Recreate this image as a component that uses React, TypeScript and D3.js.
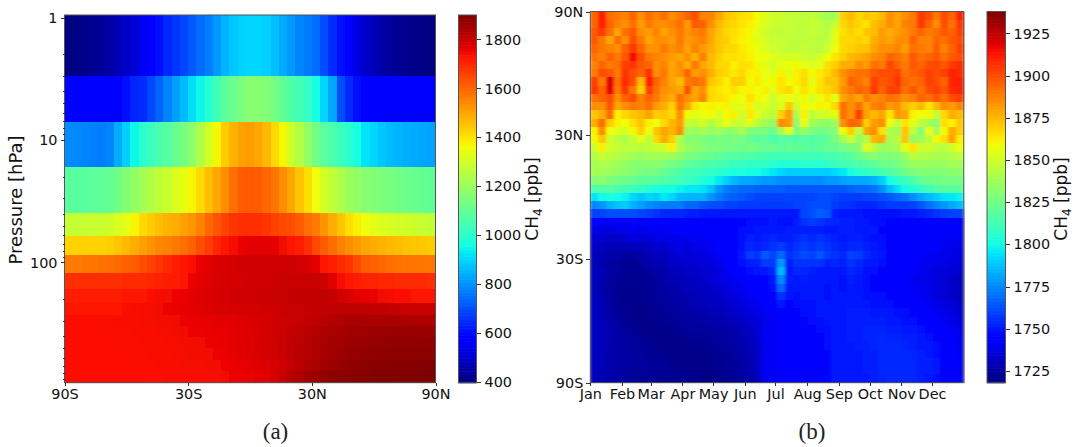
// App.tsx - CH4 heatmaps: (a) pressure vs latitude, (b) latitude vs month
import React, { useEffect, useRef } from 'react';
import * as d3 from 'd3';

// ---- Panel (a)
const pressureEdges = [0.954, 3, 7.17, 16.7, 39.4, 60.5, 87, 122.5, 164, 213, 268, 330, 405, 499, 625, 769, 958];
const pressureTicks = [1, 10, 100];
const pressureMinorTicks = [2, 3, 4, 5, 6, 7, 8, 9, 20, 30, 40, 50, 60, 70, 80, 90, 200, 300, 400, 500, 600, 700, 800, 900];
const latTicksA = [-90, -30, 30, 90];
const cbarTicksA = [400, 600, 800, 1000, 1200, 1400, 1600, 1800];

// one row per pressure layer, top to bottom; 45 latitude bins, south to north
const ch4ByPressure = [
  [400,405,410,420,430,445,470,490,510,545,575,610,640,665,690,715,745,770,810,850,880,895,900,900,890,865,835,810,780,765,745,700,650,600,560,530,495,470,450,435,425,415,410,400,398],
  [575,575,575,575,575,575,590,610,640,650,690,730,780,820,860,910,950,990,1040,1090,1120,1150,1170,1170,1160,1130,1100,1070,1040,1020,960,900,830,700,650,600,585,575,575,575,575,575,575,575,575],
  [790,785,780,775,770,780,840,890,950,1000,1030,1060,1080,1110,1140,1180,1240,1310,1370,1440,1480,1510,1515,1500,1470,1420,1370,1300,1250,1190,1130,1090,1060,1030,1000,960,920,900,880,860,850,840,835,830,825],
  [1085,1085,1085,1090,1095,1105,1130,1160,1190,1220,1250,1270,1290,1320,1345,1375,1420,1460,1500,1540,1590,1620,1625,1620,1600,1580,1540,1500,1450,1410,1360,1310,1270,1240,1210,1190,1170,1160,1150,1140,1130,1120,1110,1105,1100],
  [1280,1280,1285,1290,1290,1300,1320,1340,1375,1420,1440,1460,1480,1490,1510,1530,1560,1600,1630,1660,1680,1690,1690,1690,1680,1660,1650,1640,1620,1590,1570,1530,1490,1450,1410,1385,1360,1340,1325,1315,1305,1300,1295,1285,1280],
  [1430,1430,1430,1430,1430,1435,1450,1470,1490,1510,1530,1550,1560,1575,1590,1610,1640,1670,1705,1725,1745,1760,1772,1772,1772,1765,1750,1735,1715,1690,1650,1620,1590,1560,1540,1520,1500,1490,1480,1470,1465,1455,1450,1445,1440],
  [1570,1570,1575,1580,1585,1590,1600,1610,1620,1640,1660,1680,1700,1715,1725,1740,1760,1775,1782,1788,1792,1795,1797,1797,1797,1797,1797,1797,1792,1788,1770,1735,1718,1700,1680,1650,1620,1610,1600,1590,1585,1580,1580,1580,1575],
  [1690,1690,1690,1690,1690,1690,1692,1695,1695,1700,1705,1710,1715,1720,1735,1755,1770,1780,1785,1788,1790,1792,1795,1795,1797,1800,1805,1805,1805,1805,1805,1800,1775,1745,1725,1715,1710,1708,1705,1702,1700,1698,1696,1694,1692],
  [1718,1718,1718,1720,1720,1722,1724,1726,1730,1734,1738,1745,1750,1756,1762,1768,1776,1782,1788,1790,1794,1796,1798,1800,1802,1805,1808,1810,1812,1812,1815,1815,1810,1795,1785,1770,1765,1758,1750,1745,1740,1738,1736,1735,1730],
  [1730,1730,1730,1730,1732,1734,1736,1738,1742,1745,1748,1752,1756,1760,1766,1770,1775,1778,1782,1785,1788,1790,1790,1792,1795,1798,1802,1805,1808,1810,1813,1815,1818,1820,1820,1820,1818,1815,1812,1810,1808,1806,1805,1805,1805],
  [1738,1738,1738,1738,1740,1740,1742,1742,1744,1746,1748,1750,1752,1754,1758,1760,1762,1766,1768,1770,1774,1778,1782,1786,1790,1794,1798,1802,1806,1812,1818,1824,1830,1836,1842,1845,1846,1846,1845,1844,1842,1840,1840,1840,1838],
  [1738,1738,1738,1738,1740,1740,1740,1740,1742,1742,1744,1746,1748,1750,1754,1756,1758,1760,1764,1766,1770,1775,1780,1784,1790,1796,1802,1808,1815,1822,1830,1838,1845,1850,1855,1858,1860,1862,1862,1864,1864,1865,1865,1865,1865],
  [1738,1738,1738,1738,1738,1738,1740,1740,1740,1742,1742,1744,1746,1748,1750,1752,1754,1756,1760,1764,1768,1774,1780,1786,1792,1798,1806,1814,1822,1830,1838,1846,1852,1858,1862,1864,1868,1870,1872,1874,1875,1876,1876,1877,1877],
  [1738,1738,1738,1738,1738,1738,1738,1740,1740,1740,1742,1742,1744,1746,1748,1750,1750,1752,1756,1760,1766,1772,1778,1784,1790,1797,1806,1815,1824,1832,1840,1848,1855,1862,1868,1872,1875,1878,1880,1880,1882,1883,1884,1884,1885],
  [1738,1738,1738,1738,1738,1738,1738,1738,1740,1740,1740,1742,1742,1744,1746,1748,1748,1750,1752,1756,1760,1764,1770,1775,1780,1788,1798,1810,1822,1835,1846,1855,1862,1870,1878,1882,1885,1887,1889,1890,1891,1892,1893,1893,1894],
  [1738,1738,1738,1738,1738,1738,1738,1738,1738,1740,1740,1740,1742,1742,1744,1746,1746,1746,1748,1752,1755,1758,1763,1768,1775,1790,1808,1825,1840,1855,1865,1872,1880,1885,1888,1890,1893,1895,1897,1898,1899,1900,1901,1902,1903],
];

// ---- Panel (b)
const latTicksB = [-90, -30, 30, 90];
const monthStarts = d3.range(0, 12).map(m => new Date(Date.UTC(2019, m, 1)));
const cbarTicksB = [1725, 1750, 1775, 1800, 1825, 1850, 1875, 1900, 1925];

// one row per 4 degree latitude band, 90N first; 48 time bins, Jan to Dec
const ch4ByLatitude = [
  [1895,1912,1893,1890,1888,1895,1885,1893,1888,1892,1885,1890,1895,1900,1888,1888,1880,1872,1870,1866,1865,1860,1855,1850,1850,1847,1847,1845,1847,1842,1838,1840,1870,1875,1868,1872,1870,1875,1885,1880,1885,1890,1905,1900,1890,1900,1895,1910],
  [1895,1912,1895,1888,1885,1892,1882,1890,1885,1885,1888,1892,1882,1897,1895,1885,1875,1870,1868,1865,1862,1858,1853,1850,1848,1848,1846,1846,1848,1846,1842,1848,1868,1872,1868,1865,1874,1878,1885,1880,1888,1890,1905,1895,1885,1900,1892,1905],
  [1898,1905,1892,1880,1892,1897,1885,1882,1888,1880,1885,1890,1884,1888,1890,1880,1873,1868,1866,1863,1860,1856,1850,1847,1846,1848,1845,1845,1848,1846,1843,1855,1866,1870,1866,1872,1874,1882,1878,1882,1885,1890,1895,1890,1892,1898,1895,1903],
  [1898,1890,1880,1893,1885,1900,1890,1880,1885,1885,1882,1890,1882,1885,1888,1880,1872,1870,1865,1862,1860,1855,1852,1848,1848,1846,1845,1847,1846,1844,1846,1856,1868,1868,1870,1868,1878,1882,1880,1885,1885,1895,1888,1888,1895,1892,1898,1900],
  [1895,1890,1888,1885,1895,1905,1895,1885,1884,1890,1885,1888,1880,1888,1882,1878,1872,1868,1868,1864,1860,1858,1854,1850,1848,1846,1846,1848,1845,1844,1850,1858,1868,1870,1872,1872,1880,1885,1885,1888,1882,1892,1890,1888,1897,1888,1895,1903],
  [1892,1888,1895,1890,1898,1916,1900,1890,1888,1885,1882,1880,1885,1878,1888,1875,1870,1866,1866,1865,1862,1858,1858,1854,1852,1852,1852,1850,1848,1852,1858,1865,1870,1875,1878,1880,1885,1888,1895,1892,1888,1898,1892,1895,1898,1892,1898,1900],
  [1888,1895,1890,1892,1903,1906,1898,1895,1885,1888,1880,1885,1878,1890,1880,1875,1868,1868,1862,1866,1865,1860,1855,1852,1855,1858,1860,1856,1854,1856,1866,1870,1878,1878,1885,1882,1892,1890,1902,1895,1890,1898,1895,1900,1902,1898,1905,1908],
  [1890,1900,1898,1890,1906,1900,1895,1906,1885,1890,1880,1884,1895,1882,1885,1878,1870,1868,1864,1868,1862,1862,1858,1855,1862,1855,1862,1866,1860,1864,1868,1875,1885,1890,1892,1892,1898,1900,1900,1903,1892,1895,1898,1903,1900,1903,1910,1908],
  [1903,1890,1920,1892,1908,1900,1875,1912,1895,1888,1880,1875,1890,1892,1890,1872,1868,1862,1870,1870,1860,1864,1858,1860,1865,1860,1862,1868,1856,1865,1872,1872,1882,1895,1892,1888,1903,1898,1900,1906,1895,1892,1895,1903,1900,1895,1910,1912],
  [1905,1895,1918,1890,1905,1890,1870,1903,1892,1885,1882,1880,1900,1880,1885,1868,1865,1862,1866,1860,1862,1858,1862,1855,1865,1868,1858,1866,1860,1866,1868,1872,1885,1890,1895,1892,1905,1895,1903,1903,1892,1898,1892,1900,1903,1898,1908,1910],
  [1892,1895,1900,1885,1895,1900,1888,1895,1890,1882,1878,1892,1885,1880,1888,1868,1866,1864,1860,1858,1866,1860,1858,1850,1856,1858,1855,1860,1852,1858,1865,1855,1880,1885,1880,1890,1885,1888,1892,1890,1885,1888,1895,1892,1898,1892,1900,1903],
  [1885,1885,1898,1880,1885,1890,1888,1892,1882,1878,1870,1890,1880,1865,1860,1862,1860,1862,1855,1856,1862,1852,1855,1848,1853,1872,1850,1860,1858,1862,1860,1868,1892,1885,1892,1880,1888,1890,1882,1885,1875,1870,1875,1865,1875,1885,1882,1888],
  [1872,1878,1893,1862,1868,1872,1875,1880,1870,1872,1868,1885,1860,1855,1858,1860,1852,1860,1862,1850,1864,1856,1848,1846,1870,1882,1840,1862,1846,1850,1852,1855,1892,1885,1903,1880,1875,1880,1865,1882,1880,1862,1858,1860,1845,1868,1878,1875],
  [1878,1892,1870,1862,1858,1866,1872,1862,1858,1868,1876,1882,1848,1846,1852,1842,1850,1858,1850,1848,1856,1845,1838,1835,1885,1882,1832,1858,1838,1835,1832,1838,1885,1895,1892,1870,1882,1885,1858,1846,1865,1856,1846,1838,1832,1866,1862,1872],
  [1862,1885,1858,1856,1852,1860,1870,1858,1872,1880,1876,1885,1838,1836,1840,1834,1838,1832,1834,1840,1830,1826,1828,1822,1840,1856,1828,1835,1828,1825,1826,1830,1860,1870,1845,1880,1885,1866,1842,1838,1872,1846,1830,1858,1838,1860,1878,1870],
  [1860,1872,1850,1846,1840,1848,1856,1846,1868,1878,1870,1842,1830,1832,1828,1826,1828,1826,1828,1826,1822,1820,1820,1815,1818,1818,1816,1818,1816,1818,1820,1828,1838,1850,1835,1842,1875,1878,1840,1845,1872,1835,1838,1845,1860,1865,1880,1862],
  [1850,1862,1850,1848,1845,1846,1844,1846,1848,1850,1862,1842,1835,1832,1830,1828,1828,1826,1826,1824,1826,1824,1822,1822,1820,1822,1820,1820,1818,1820,1822,1822,1826,1828,1832,1855,1845,1836,1838,1840,1855,1865,1850,1850,1845,1845,1850,1858],
  [1842,1848,1845,1842,1840,1838,1836,1838,1838,1838,1836,1832,1828,1826,1824,1822,1820,1818,1818,1816,1816,1814,1814,1812,1812,1812,1812,1812,1812,1812,1814,1814,1816,1818,1824,1828,1832,1828,1828,1830,1835,1845,1842,1842,1840,1840,1842,1845],
  [1840,1842,1840,1838,1835,1832,1832,1832,1832,1830,1826,1824,1820,1818,1816,1815,1814,1812,1810,1810,1808,1808,1808,1806,1804,1804,1804,1806,1806,1806,1808,1810,1812,1814,1816,1818,1820,1824,1824,1826,1832,1836,1836,1836,1836,1836,1838,1838],
  [1838,1838,1836,1834,1832,1830,1828,1826,1826,1822,1818,1816,1812,1812,1810,1808,1806,1804,1802,1802,1800,1800,1798,1796,1792,1790,1790,1790,1790,1790,1790,1792,1796,1800,1806,1808,1810,1814,1816,1820,1824,1828,1830,1830,1830,1830,1832,1832],
  [1830,1832,1828,1826,1824,1822,1820,1820,1818,1816,1814,1812,1810,1808,1804,1800,1796,1790,1785,1782,1782,1780,1778,1778,1776,1776,1776,1776,1776,1776,1778,1778,1780,1782,1782,1782,1784,1790,1800,1806,1810,1815,1822,1824,1825,1826,1826,1826],
  [1815,1816,1818,1814,1812,1810,1808,1804,1802,1800,1800,1798,1796,1796,1794,1788,1778,1772,1770,1768,1768,1766,1766,1766,1766,1764,1764,1764,1764,1764,1764,1764,1764,1766,1768,1768,1770,1776,1786,1794,1800,1804,1808,1812,1816,1818,1818,1820],
  [1795,1800,1802,1800,1798,1792,1788,1792,1790,1796,1792,1786,1784,1784,1784,1778,1772,1768,1766,1764,1762,1760,1760,1760,1760,1760,1760,1760,1760,1762,1762,1760,1758,1758,1758,1760,1760,1762,1764,1768,1770,1776,1782,1786,1790,1794,1796,1798],
  [1775,1778,1784,1788,1790,1784,1780,1776,1774,1772,1772,1772,1768,1768,1764,1762,1762,1760,1760,1758,1758,1758,1758,1758,1758,1758,1760,1760,1762,1762,1762,1758,1756,1756,1754,1754,1754,1756,1758,1758,1758,1760,1764,1770,1774,1778,1782,1786],
  [1760,1760,1762,1762,1762,1762,1760,1758,1756,1754,1754,1754,1752,1752,1750,1750,1750,1750,1750,1750,1750,1750,1750,1750,1750,1750,1750,1760,1762,1766,1764,1752,1750,1750,1750,1748,1748,1748,1748,1748,1750,1750,1752,1754,1756,1758,1760,1760],
  [1742,1742,1742,1744,1740,1742,1744,1746,1744,1744,1746,1746,1744,1744,1744,1744,1744,1746,1746,1746,1748,1748,1748,1750,1748,1748,1752,1756,1758,1756,1754,1754,1752,1752,1750,1750,1748,1748,1746,1744,1744,1744,1744,1744,1744,1744,1744,1744],
  [1738,1736,1736,1738,1738,1740,1738,1740,1740,1740,1742,1742,1742,1742,1742,1742,1742,1744,1746,1748,1748,1750,1750,1750,1750,1752,1752,1752,1752,1752,1750,1750,1752,1752,1750,1750,1750,1746,1744,1744,1742,1742,1742,1742,1742,1742,1742,1742],
  [1734,1734,1732,1732,1734,1736,1734,1736,1738,1738,1738,1738,1740,1740,1740,1742,1742,1744,1746,1748,1752,1750,1752,1754,1752,1752,1754,1756,1754,1756,1754,1752,1750,1752,1752,1750,1748,1748,1746,1744,1744,1744,1742,1742,1742,1740,1740,1740],
  [1732,1730,1728,1728,1728,1730,1730,1730,1734,1732,1736,1738,1736,1738,1738,1740,1742,1744,1746,1748,1754,1752,1754,1756,1758,1754,1756,1758,1756,1758,1756,1754,1752,1754,1754,1752,1750,1748,1746,1746,1744,1744,1742,1742,1742,1740,1738,1738],
  [1730,1728,1726,1726,1724,1724,1726,1728,1730,1730,1732,1736,1734,1736,1736,1738,1740,1742,1746,1750,1758,1756,1764,1760,1768,1756,1758,1762,1760,1764,1758,1756,1754,1760,1758,1754,1752,1750,1746,1746,1744,1744,1742,1740,1740,1738,1738,1736],
  [1730,1726,1724,1724,1722,1722,1724,1726,1728,1728,1732,1732,1734,1734,1736,1736,1738,1742,1744,1748,1752,1752,1758,1758,1778,1752,1756,1756,1756,1756,1752,1754,1752,1756,1754,1750,1750,1748,1746,1744,1744,1742,1740,1740,1738,1738,1736,1736],
  [1730,1728,1725,1724,1722,1722,1722,1724,1726,1726,1730,1730,1732,1732,1734,1734,1736,1740,1742,1744,1748,1750,1750,1754,1785,1750,1754,1754,1752,1750,1750,1750,1750,1754,1752,1748,1748,1746,1744,1744,1742,1742,1740,1738,1736,1736,1734,1734],
  [1730,1727,1724,1723,1722,1721,1722,1722,1724,1726,1728,1728,1730,1730,1732,1734,1736,1738,1740,1742,1744,1746,1746,1750,1775,1752,1750,1752,1750,1750,1750,1750,1748,1752,1750,1748,1746,1746,1744,1744,1742,1740,1738,1738,1736,1734,1732,1730],
  [1730,1726,1724,1722,1721,1721,1722,1722,1724,1724,1726,1728,1730,1730,1730,1732,1734,1736,1738,1740,1742,1744,1744,1748,1768,1750,1750,1750,1750,1750,1748,1750,1748,1750,1750,1748,1746,1746,1746,1744,1742,1740,1740,1738,1736,1734,1732,1730],
  [1731,1727,1724,1722,1721,1720,1721,1722,1723,1724,1726,1726,1728,1728,1730,1730,1732,1734,1736,1738,1740,1742,1744,1746,1756,1750,1748,1750,1750,1750,1748,1750,1750,1750,1750,1748,1748,1748,1746,1746,1744,1742,1740,1738,1736,1734,1732,1730],
  [1731,1728,1724,1722,1721,1720,1720,1721,1722,1723,1724,1726,1726,1728,1728,1730,1730,1732,1734,1736,1738,1740,1742,1744,1750,1746,1748,1748,1748,1750,1750,1750,1750,1750,1750,1750,1748,1748,1748,1746,1746,1744,1742,1740,1738,1736,1734,1732],
  [1731,1728,1725,1723,1721,1720,1720,1720,1722,1722,1723,1724,1725,1726,1726,1728,1729,1730,1732,1734,1736,1738,1740,1742,1744,1746,1746,1748,1748,1750,1750,1750,1750,1752,1752,1752,1750,1750,1750,1748,1748,1746,1744,1742,1740,1738,1736,1734],
  [1731,1729,1726,1724,1722,1721,1720,1720,1721,1722,1722,1723,1724,1725,1725,1726,1727,1728,1729,1731,1733,1735,1738,1741,1743,1744,1745,1746,1748,1749,1750,1751,1751,1752,1752,1752,1752,1752,1750,1750,1748,1748,1746,1744,1742,1740,1738,1736],
  [1731,1729,1727,1725,1723,1722,1721,1720,1720,1721,1721,1722,1723,1723,1724,1724,1725,1726,1727,1729,1731,1734,1739,1741,1742,1743,1744,1745,1746,1748,1749,1750,1751,1752,1752,1753,1753,1753,1752,1752,1750,1750,1748,1746,1744,1742,1740,1738],
  [1731,1729,1727,1725,1724,1723,1722,1721,1720,1720,1720,1721,1722,1722,1722,1723,1724,1725,1726,1728,1730,1733,1740,1741,1742,1742,1743,1744,1745,1746,1748,1750,1751,1752,1752,1753,1753,1754,1753,1753,1752,1752,1750,1748,1746,1744,1742,1739],
  [1731,1729,1727,1726,1725,1724,1723,1722,1721,1720,1720,1720,1720,1721,1721,1722,1723,1724,1725,1727,1729,1732,1740,1741,1742,1742,1742,1743,1744,1745,1747,1750,1750,1751,1752,1752,1753,1754,1754,1754,1753,1752,1751,1750,1747,1745,1743,1740],
  [1730,1729,1727,1726,1725,1724,1723,1722,1722,1721,1720,1720,1720,1720,1720,1721,1722,1722,1724,1726,1728,1731,1740,1741,1742,1742,1742,1743,1744,1744,1746,1750,1750,1750,1751,1752,1752,1754,1754,1754,1754,1753,1752,1751,1749,1746,1744,1741],
  [1730,1729,1727,1726,1725,1724,1723,1723,1722,1722,1721,1720,1720,1720,1720,1720,1721,1722,1723,1725,1727,1730,1740,1741,1742,1742,1742,1743,1744,1744,1746,1750,1750,1750,1751,1752,1752,1754,1754,1754,1754,1754,1752,1752,1750,1746,1744,1742],
  [1730,1728,1726,1725,1724,1723,1723,1723,1722,1722,1722,1721,1720,1720,1720,1720,1721,1722,1723,1725,1727,1730,1740,1741,1742,1742,1742,1743,1744,1744,1746,1750,1750,1750,1751,1752,1752,1754,1754,1754,1754,1754,1752,1752,1750,1746,1744,1742],
  [1730,1728,1726,1725,1724,1723,1722,1722,1722,1721,1721,1721,1720,1720,1719,1719,1720,1721,1722,1724,1726,1729,1740,1741,1742,1742,1742,1743,1744,1744,1746,1750,1750,1750,1750,1751,1752,1753,1754,1754,1754,1754,1752,1751,1749,1746,1744,1742],
];

const FONT = '"DejaVu Sans", sans-serif';
const TICK_SIZE = 14.4;

// matplotlib's jet, channel by channel
const jetR = d3.scaleLinear().domain([0, 0.35, 0.66, 0.89, 1]).range([0, 0, 255, 255, 127.5]);
const jetG = d3.scaleLinear().domain([0, 0.125, 0.375, 0.64, 0.91, 1]).range([0, 0, 255, 255, 0, 0]);
const jetB = d3.scaleLinear().domain([0, 0.11, 0.34, 0.65, 1]).range([127.5, 255, 255, 0, 0]);
const jet = (t: number) => `rgb(${Math.round(jetR(t))},${Math.round(jetG(t))},${Math.round(jetB(t))})`;

function styleAxis(g: any) {
  g.select('.domain').remove();
  g.selectAll('.tick line').attr('stroke', '#333').attr('shape-rendering', 'crispEdges');
  g.selectAll('.tick text')
    .attr('fill', '#111')
    .style('font-family', FONT)
    .style('font-size', `${TICK_SIZE}px`);
}

function frame(svg: any, x0: number, x1: number, y0: number, y1: number) {
  svg.append('rect')
    .attr('x', x0).attr('y', y0)
    .attr('width', x1 - x0).attr('height', y1 - y0)
    .attr('fill', 'none')
    .attr('stroke', '#555')
    .attr('stroke-width', 1);
}

function colorbar(svg: any, x0: number, x1: number, y0: number, y1: number, vmin: number, vmax: number, ticks: number[]) {
  const y = d3.scaleLinear().domain([vmin, vmax]).range([y1, y0]);
  const steps = d3.range(256);
  const h = (y1 - y0) / 256;
  svg.append('g').selectAll('rect')
    .data(steps)
    .enter().append('rect')
    .attr('x', x0)
    .attr('y', (d: number) => y1 - (d + 1) * h)
    .attr('width', x1 - x0)
    .attr('height', h + 0.6)
    .attr('fill', (d: number) => jet(d / 255));
  frame(svg, x0, x1, y0, y1);
  svg.append('g')
    .attr('transform', `translate(${x1},0)`)
    .call(d3.axisRight(y).tickValues(ticks).tickSize(4).tickPadding(4).tickFormat(d3.format('d')))
    .call(styleAxis);
}

function ch4Label(svg: any, x: number, y: number) {
  const t = svg.append('text')
    .attr('transform', `translate(${x},${y}) rotate(-90)`)
    .attr('text-anchor', 'middle')
    .attr('fill', '#111')
    .style('font-family', FONT)
    .style('font-size', '17px');
  t.append('tspan').text('CH');
  t.append('tspan').attr('dy', 4).style('font-size', '12px').text('4');
  t.append('tspan').attr('dy', -4).text(' [ppb]');
}

export default function App() {
  const svgRef = useRef<SVGSVGElement>(null);

  useEffect(() => {
    const svg = d3.select(svgRef.current);
    svg.selectAll('*').remove();

    const defs = svg.append('defs');
    defs.append('filter')
      .attr('id', 'softA')
      .attr('x', 0).attr('y', 0).attr('width', 1).attr('height', 1)
      .append('feGaussianBlur')
      .attr('stdDeviation', 0.6);
    // panel (b) is streakier, so soften it more across time than across latitude
    defs.append('filter')
      .attr('id', 'softB')
      .attr('x', 0).attr('y', 0).attr('width', 1).attr('height', 1)
      .append('feGaussianBlur')
      .attr('stdDeviation', '1.4 0.7');

    // ---- (a)
    const a = { x0: 64.5, x1: 435.5, y0: 15, y1: 382.7 };
    const xBandA = d3.scaleBand<number>().domain(d3.range(45)).range([a.x0, a.x1]);
    const xLatA = d3.scaleLinear().domain([-90, 90]).range([a.x0, a.x1]);
    const yP = d3.scaleLog().domain([pressureEdges[0], pressureEdges[pressureEdges.length - 1]]).range([a.y0, a.y1]);
    const colorA = (v: number) => jet((v - 397) / (1900 - 397));

    const gA = svg.append('g').attr('filter', 'url(#softA)').attr('shape-rendering', 'crispEdges');
    ch4ByPressure.forEach((row, r) => {
      gA.append('g').selectAll('rect')
        .data(row)
        .enter().append('rect')
        .attr('x', (_d, i) => xBandA(i)!)
        .attr('y', yP(pressureEdges[r]))
        .attr('width', xBandA.bandwidth() + 0.5)
        .attr('height', yP(pressureEdges[r + 1]) - yP(pressureEdges[r]) + 0.5)
        .attr('fill', d => colorA(d));
    });
    frame(svg, a.x0, a.x1, a.y0, a.y1);

    svg.append('g')
      .attr('transform', `translate(${a.x0},0)`)
      .call(d3.axisLeft(yP).tickValues(pressureTicks).tickSize(4).tickPadding(3).tickFormat(d3.format('d')) as any)
      .call(styleAxis);
    svg.append('g')
      .attr('transform', `translate(${a.x0},0)`)
      .call(d3.axisLeft(yP).tickValues(pressureMinorTicks).tickSize(2).tickFormat(() => '') as any)
      .call(styleAxis);
    svg.append('g')
      .attr('transform', `translate(0,${a.y1})`)
      .call(d3.axisBottom(xLatA).tickValues(latTicksA).tickSize(3).tickPadding(3)
        .tickFormat((d: any) => `${Math.abs(d)}${d < 0 ? 'S' : 'N'}`) as any)
      .call(styleAxis);

    svg.append('text')
      .attr('transform', 'translate(22,200) rotate(-90)')
      .attr('text-anchor', 'middle')
      .attr('fill', '#111')
      .style('font-family', FONT)
      .style('font-size', '18px')
      .text('Pressure [hPa]');

    colorbar(svg, 458.5, 476.5, a.y0, a.y1, 397, 1900, cbarTicksA);
    ch4Label(svg, 538, 199);

    // ---- (b)
    const b = { x0: 590.3, x1: 963.7, y0: 11.5, y1: 382.7 };
    const xBandB = d3.scaleBand<number>().domain(d3.range(48)).range([b.x0, b.x1]);
    const yBandB = d3.scaleBand<number>().domain(d3.range(45)).range([b.y0, b.y1]);
    const xTime = d3.scaleUtc().domain([new Date(Date.UTC(2019, 0, 1)), new Date(Date.UTC(2020, 0, 1))]).range([b.x0, b.x1]);
    const yLatB = d3.scaleLinear().domain([-90, 90]).range([b.y1, b.y0]);
    const colorB = (v: number) => jet((v - 1718) / (1938 - 1718));

    const gB = svg.append('g').attr('filter', 'url(#softB)').attr('shape-rendering', 'crispEdges');
    ch4ByLatitude.forEach((row, r) => {
      gB.append('g').selectAll('rect')
        .data(row)
        .enter().append('rect')
        .attr('x', (_d, i) => xBandB(i)!)
        .attr('y', yBandB(r)!)
        .attr('width', xBandB.bandwidth() + 0.5)
        .attr('height', yBandB.bandwidth() + 0.5)
        .attr('fill', d => colorB(d));
    });
    frame(svg, b.x0, b.x1, b.y0, b.y1);

    svg.append('g')
      .attr('transform', `translate(${b.x0},0)`)
      .call(d3.axisLeft(yLatB).tickValues(latTicksB).tickSize(4).tickPadding(3)
        .tickFormat((d: any) => `${Math.abs(d)}${d < 0 ? 'S' : 'N'}`) as any)
      .call(styleAxis);
    svg.append('g')
      .attr('transform', `translate(0,${b.y1})`)
      .call(d3.axisBottom(xTime).tickValues(monthStarts).tickSize(3).tickPadding(3)
        .tickFormat(d3.utcFormat('%b') as any) as any)
      .call(styleAxis);

    colorbar(svg, 987, 1005.5, b.y0, b.y1, 1718, 1938, cbarTicksB);
    ch4Label(svg, 1067, 199);

    // ---- Panel letters
    [['(a)', 275.5], ['(b)', 812]].forEach(([label, x]) => {
      svg.append('text')
        .attr('x', x as number)
        .attr('y', 439)
        .attr('text-anchor', 'middle')
        .attr('fill', '#222')
        .style('font-family', '"Liberation Serif", serif')
        .style('font-size', '23px')
        .text(label as string);
    });
  }, []);

  return (
    <svg
      ref={svgRef}
      width={1076}
      height={447}
      style={{ position: 'absolute', left: 0, top: 0, display: 'block', background: '#fff' }}
    />
  );
}
